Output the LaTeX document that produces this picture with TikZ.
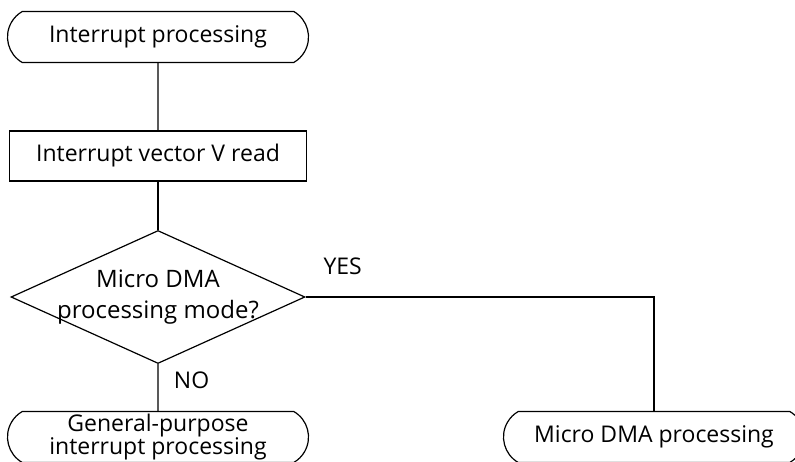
\documentclass[tikz,border=0pt]{standalone}
\usepackage{fontspec}
\setmainfont{Open Sans}
\usetikzlibrary{shapes.geometric,shapes.misc,positioning}

\tikzset{
    term/.style={rounded rectangle, rounded rectangle arc length=120, draw, line width=1.2pt,
        minimum width=303pt, minimum height=51pt, inner sep=1pt, align=center,
        font=\fontsize{23}{21}\selectfont},
    proc/.style={rectangle, draw, line width=1.2pt, minimum width=297pt, minimum height=50pt,
        inner sep=1pt, font=\fontsize{23}{21}\selectfont},
    decision/.style={diamond, aspect=2.2, draw, line width=1.2pt, minimum width=294pt,
        minimum height=133pt, inner sep=-14pt, align=center, font=\fontsize{24}{31}\selectfont},
    lbl/.style={font=\fontsize{23}{24}\selectfont}
}

\begin{document}
\begin{tikzpicture}[x=1pt,y=1pt,on grid,line width=1.2pt]
    \useasboundingbox (0,0) rectangle (795,-462);
    \node[term] (start) at (158,-37) {Interrupt processing};
    \node[proc] (vread) [below=119pt of start] {Interrupt vector V read};
    \node[decision] (dma) [below=141pt of vread] {Micro DMA\\processing mode?};
    \node[term] (general) [below=140pt of dma] {General-purpose\\interrupt processing};
    \node[term] (micro) [right=496pt of general] {Micro DMA processing};
    \draw (start) -- (vread);
    \draw (vread) -- (dma);
    \draw (dma) -- node[lbl, anchor=west, pos=0.35, xshift=12pt] {NO} (general);
    \draw (dma.east) -| node[lbl, pos=0, anchor=south west, xshift=14pt, yshift=18pt] {YES} (micro);
\end{tikzpicture}
\end{document}
